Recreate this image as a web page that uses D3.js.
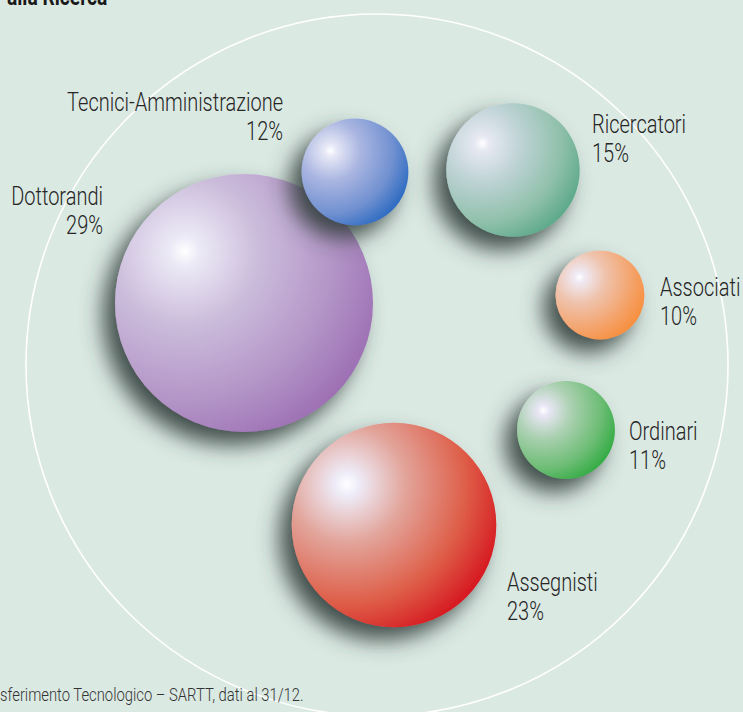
<!DOCTYPE html>
<html>
<head>
<meta charset="utf-8">
<script src="https://cdn.jsdelivr.net/npm/d3@7"></script>
<style>
  html, body { margin: 0; padding: 0; background: #dbe9e3; overflow: hidden; }
  svg { display: block; }
  text { font-family: Roboto, "Liberation Sans", sans-serif; font-weight: 300; fill: #262626; }
</style>
</head>
<body>
<svg id="chart" width="743" height="712"></svg>
<script>
// ---- data ----
const categories = ["Dottorandi", "Assegnisti", "Ordinari", "Associati", "Ricercatori", "Tecnici-Amministrazione"];
const values = [29, 23, 11, 10, 15, 12];
const valueLabels = ["29%", "23%", "11%", "10%", "15%", "12%"];
const titleText = "alla Ricerca";
const sourceText = "sferimento Tecnologico – SARTT, dati al 31/12.";

// ---- layout (offsets of bubble centres from the outer ring centre, label anchors relative to bubble) ----
const bubbleOffsets = [[-133, -62], [17, 160], [189, 65], [223, -70], [136, -195], [-22, -193]];
const labelOffsets = [[-141, -98, "end"], [113, 66, "start"], [63, 10, "start"], [60, 1, "start"], [79, -37, "start"], [-72, -61, "end"]];
const palettes = [
  ["#ffffff", "#eceaf6", "#cbbcdb", "#b293c6", "#9b6db2"],
  ["#ffffff", "#eeecf8", "#e2a49a", "#de5c46", "#d5121e"],
  ["#ffffff", "#e8e6f4", "#aad0b0", "#6dbd75", "#2eaa40"],
  ["#ffffff", "#efeaf4", "#efc3ad", "#f4a36b", "#f78d3a"],
  ["#ffffff", "#e6e8f2", "#bed3d5", "#90c0ab", "#58a788"],
  ["#ffffff", "#e6e8f6", "#a9b5e1", "#7090d0", "#2868c0"]
];

const W = 743, H = 712;
const svg = d3.select("#chart");
const ring = { cx: 377, cy: 365, r: 351 };
const condense = 0.8; // horizontal compression to mimic condensed face

const rScale = d3.scaleLinear().domain([0, 29]).range([0, 129]);

const defs = svg.append("defs");
const f = defs.append("filter").attr("id", "shadow")
  .attr("x", "-60%").attr("y", "-60%").attr("width", "220%").attr("height", "220%");
f.append("feDropShadow").attr("dx", -12).attr("dy", 13).attr("stdDeviation", 11)
  .attr("flood-color", "#333d3b").attr("flood-opacity", 0.9);

palettes.forEach((p, i) => {
  const g = defs.append("radialGradient").attr("id", "grad" + i)
    .attr("cx", 0.27).attr("cy", 0.3).attr("fx", 0.27).attr("fy", 0.3).attr("r", 0.82);
  [0, 0.07, 0.35, 0.72, 1].forEach((o, k) => g.append("stop").attr("offset", o).attr("stop-color", p[k]));
});

// background
svg.append("rect").attr("width", W).attr("height", H).attr("fill", "#dbe9e3");

// outer ring
svg.append("circle").attr("cx", ring.cx).attr("cy", ring.cy).attr("r", ring.r)
  .attr("fill", "none").attr("stroke", "#ffffff").attr("stroke-width", 1.6);

const data = categories.map((c, i) => ({
  name: c, value: values[i], label: valueLabels[i],
  x: ring.cx + bubbleOffsets[i][0], y: ring.cy + bubbleOffsets[i][1],
  r: rScale(values[i]), lo: labelOffsets[i], i
}));

// bubbles
svg.append("g").selectAll("circle").data(data).join("circle")
  .attr("cx", d => d.x).attr("cy", d => d.y).attr("r", d => d.r)
  .attr("fill", d => `url(#grad${d.i})`)
  .attr("filter", "url(#shadow)");

// condensed text helper: scale horizontally around the anchor point
function condensedText(sel, x, y, anchor, size, weight, fill) {
  const g = sel.append("g").attr("transform", `translate(${x},${y}) scale(${condense},1)`);
  const t = g.append("text").attr("x", 0).attr("y", 0).attr("text-anchor", anchor)
    .style("font-size", size + "px");
  if (weight) t.style("font-weight", weight);
  if (fill) t.style("fill", fill);
  return t;
}

const labels = svg.append("g");
data.forEach(d => {
  const x = d.x + d.lo[0], y = d.y + d.lo[1];
  condensedText(labels, x, y, d.lo[2], 25).text(d.name);
  condensedText(labels, x, y + 29, d.lo[2], 25).text(d.label);
});

// title (cut at top)
condensedText(svg, 7, 5, "start", 24, 700, "#1a1a1a").text(titleText);

// source
condensedText(svg, 0, 701, "start", 18.5, 300, "#333").text(sourceText);
</script>
</body>
</html>
